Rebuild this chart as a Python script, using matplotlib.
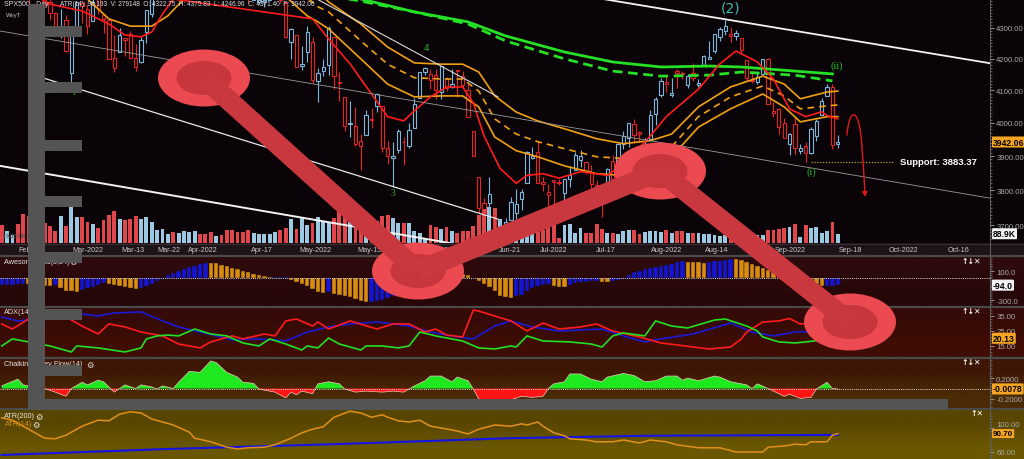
import numpy as np
import matplotlib
matplotlib.use("Agg")
import matplotlib.pyplot as plt
import matplotlib.colors as mcolors
from matplotlib.patches import Rectangle, Ellipse, FancyArrowPatch
from matplotlib.path import Path
from matplotlib.ticker import FixedLocator, NullFormatter
from matplotlib.transforms import blended_transform_factory

plt.rcParams['font.family'] = ['Liberation Sans', 'DejaVu Sans']

# ---------------------------------------------------------------------------
# daily bars 7 Feb 2022 .. 14 Sep 2022 (CFD feed: trades US holidays, not Good Friday)
opens = [4506, 4480, 4547, 4553, 4506, 4413, 4429, 4456, 4456, 4385,
         4349, 4295, 4325, 4156, 4298, 4384, 4363, 4323, 4401, 4342,
         4327, 4203, 4223, 4268, 4280, 4203, 4189, 4288, 4345, 4407,
         4455, 4469, 4493, 4470, 4523, 4541, 4603, 4624, 4599, 4550,
         4548, 4572, 4494, 4505, 4494, 4463, 4438, 4394, 4385, 4386,
         4391, 4450, 4489, 4386, 4255, 4278, 4176, 4223, 4254, 4131,
         4160, 4181, 4270, 4128, 4081, 3995, 3990, 3945, 3964, 4013,
         4052, 4052, 3925, 3895, 3919, 3943, 3930, 3985, 4077, 4158,
         4151, 4150, 4095, 4138, 4112, 4165, 4147, 4102, 3974, 3838,
         3764, 3764, 3728, 3666, 3675, 3715, 3734, 3775, 3822, 3895,
         3913, 3825, 3795, 3830, 3825, 3793, 3832, 3859, 3888, 3881,
         3852, 3815, 3800, 3818, 3884, 3861, 3935, 3955, 3998, 3972,
         3915, 3951, 4026, 4087, 4125, 4085, 4160, 4155, 4116, 4156,
         4118, 4181, 4200, 4225, 4269, 4290, 4280, 4273, 4266, 4195,
         4133, 4127, 4153, 4199, 4035, 4041, 4001, 3937, 3995, 3915,
         3931, 3909, 3960, 4023, 4084, 4110, 3936]
highs = [4522, 4531, 4590, 4589, 4526, 4426, 4473, 4490, 4456, 4395,
         4352, 4362, 4342, 4295, 4385, 4389, 4378, 4401, 4417, 4342,
         4327, 4277, 4299, 4268, 4291, 4248, 4271, 4359, 4413, 4465,
         4482, 4522, 4501, 4521, 4546, 4576, 4637, 4628, 4603, 4551,
         4584, 4593, 4504, 4521, 4520, 4464, 4471, 4454, 4453, 4410,
         4471, 4488, 4513, 4386, 4299, 4278, 4241, 4308, 4270, 4170,
         4200, 4308, 4270, 4158, 4081, 4068, 4049, 3965, 4039, 4046,
         4091, 4052, 3946, 3943, 3982, 3956, 3999, 4075, 4158, 4175,
         4168, 4167, 4178, 4143, 4169, 4165, 4160, 4119, 3974, 3838,
         3778, 3838, 3728, 3708, 3720, 3780, 3802, 3803, 3914, 3928,
         3946, 3837, 3819, 3830, 3832, 3832, 3871, 3911, 3919, 3881,
         3873, 3829, 3800, 3864, 3902, 3940, 3974, 3999, 4012, 3975,
         3953, 4040, 4079, 4140, 4145, 4140, 4168, 4161, 4152, 4187,
         4137, 4211, 4258, 4280, 4302, 4325, 4302, 4293, 4266, 4195,
         4160, 4157, 4201, 4203, 4063, 4045, 4015, 3970, 4018, 3935,
         3943, 3988, 4011, 4077, 4119, 4119, 3964]
lows = [4471, 4465, 4547, 4484, 4401, 4365, 4429, 4430, 4374, 4327,
        4290, 4267, 4222, 4115, 4287, 4315, 4280, 4323, 4346, 4285,
        4200, 4158, 4223, 4210, 4200, 4162, 4188, 4252, 4336, 4391,
        4424, 4469, 4456, 4465, 4501, 4518, 4590, 4581, 4530, 4508,
        4539, 4514, 4450, 4450, 4475, 4408, 4381, 4393, 4380, 4370,
        4391, 4449, 4384, 4268, 4201, 4175, 4163, 4189, 4124, 4063,
        4147, 4149, 4106, 4068, 3975, 3958, 3929, 3859, 3964, 3984,
        4034, 3912, 3877, 3810, 3909, 3875, 3925, 3985, 4077, 4150,
        4105, 4074, 4074, 4099, 4109, 4080, 4107, 4017, 3900, 3734,
        3722, 3722, 3640, 3637, 3665, 3715, 3718, 3744, 3822, 3890,
        3820, 3799, 3739, 3752, 3815, 3742, 3809, 3859, 3869, 3847,
        3802, 3759, 3722, 3817, 3819, 3861, 3922, 3928, 3939, 3943,
        3911, 3951, 3993, 4079, 4096, 4080, 4108, 4135, 4107, 4129,
        4112, 4177, 4199, 4220, 4257, 4278, 4253, 4262, 4219, 4130,
        4124, 4120, 4148, 4058, 4017, 3965, 3955, 3904, 3906, 3905,
        3883.37, 3906, 3945, 4023, 4084, 3922, 3925]
closes = [4484, 4522, 4587, 4504, 4419, 4402, 4471, 4475, 4380, 4349,
          4300, 4305, 4226, 4289, 4385, 4374, 4306, 4387, 4363, 4329,
          4201, 4171, 4278, 4260, 4204, 4173, 4262, 4358, 4412, 4463,
          4461, 4512, 4456, 4520, 4543, 4576, 4632, 4602, 4530, 4546,
          4583, 4525, 4481, 4500, 4488, 4413, 4397, 4447, 4393, 4392,
          4462, 4459, 4394, 4272, 4296, 4175, 4184, 4288, 4132, 4155,
          4175, 4300, 4147, 4123, 3991, 4001, 3935, 3930, 4024, 4008,
          4089, 3924, 3901, 3901, 3974, 3941, 3979, 4058, 4158, 4170,
          4132, 4101, 4177, 4109, 4121, 4161, 4116, 4018, 3901, 3750,
          3735, 3790, 3667, 3675, 3710, 3765, 3760, 3796, 3912, 3900,
          3822, 3819, 3785, 3825, 3820, 3831, 3845, 3903, 3899, 3854,
          3819, 3802, 3790, 3863, 3831, 3937, 3960, 3999, 3962, 3967,
          3921, 4024, 4072, 4130, 4119, 4091, 4155, 4152, 4145, 4140,
          4122, 4210, 4207, 4280, 4297, 4305, 4274, 4284, 4228, 4138,
          4129, 4141, 4199, 4058, 4031, 3986, 3955, 3967, 3924, 3925,
          3908, 3980, 4006, 4067, 4110, 3933, 3942.06]
volume_k = [169, 115, 74, 182, 274, 258, 210, 172, 191, 160,
            112, 255, 163, 351, 249, 249, 201, 185, 146, 217,
            265, 306, 229, 217, 232, 258, 229, 249, 198, 121,
            131, 89, 105, 98, 115, 105, 112, 83, 89, 108,
            64, 74, 121, 121, 105, 105, 121, 96, 89, 86,
            89, 105, 121, 146, 232, 137, 249, 175, 191, 249,
            204, 191, 242, 313, 265, 201, 232, 335, 121, 239,
            210, 258, 265, 239, 191, 191, 194, 115, 98, 38,
            169, 153, 137, 153, 112, 98, 112, 115, 163, 265,
            325, 344, 335, 232, 26, 96, 64, 74, 96, 105,
            121, 121, 153, 175, 51, 169, 179, 96, 143, 96,
            96, 185, 137, 96, 96, 83, 115, 121, 127, 89,
            105, 115, 112, 105, 127, 96, 115, 115, 96, 96,
            96, 89, 83, 74, 64, 74, 64, 67, 74, 76,
            89, 74, 74, 127, 127, 134, 146, 153, 179, 57,
            172, 141, 153, 98, 115, 201, 88.9]

date_tick_labels = ['Feb-13', 'Mar-2022', 'Mar-13', 'Mar-22', 'Apr-2022', 'Apr-17',
                    'May-2022', 'May-15', 'Jun-2022', 'Jun-21', 'Jul-2022', 'Jul-17',
                    'Aug-2022', 'Aug-14', 'Sep-2022', 'Sep-18', 'Oct-2022', 'Oct-16']
date_tick_pos = [5.3, 16.1, 24.5, 31.2, 37.6, 48.6, 58.6, 68.7, 81.4, 94.8,
                 103, 112.7, 124.1, 133.5, 147.1, 158.3, 168.3, 178.6]

# overlay averages (bar index, price)
red_ma_idx = [0, 5, 9, 15, 20, 23, 26, 28, 30, 32, 36, 40, 45, 50, 54, 58, 61, 65, 69, 72,
              75, 77, 80, 83, 86, 88, 90, 93, 96, 98, 101, 104, 108, 113, 114, 118, 121, 124,
              130, 134, 137, 141, 144, 147, 150, 153, 154, 156]
red_ma_val = [4480, 4420, 4379, 4356, 4313, 4277, 4271, 4287, 4346, 4396, 4460, 4500, 4480,
              4440, 4396, 4330, 4264, 4184, 4089, 4019, 4006, 4037, 4080, 4111, 4111, 4061,
              3960, 3863, 3820, 3843, 3848, 3835, 3854, 3843, 3854, 3907, 3960, 4019, 4104,
              4184, 4225, 4190, 4136, 4043, 4019, 4034, 4022, 4012]

band_idx = [0, 10, 16, 20, 24, 28, 31, 34, 40, 46, 52, 57, 59, 61, 67, 72, 77, 82, 86, 89,
            92, 96, 100, 105, 111, 116, 121, 125, 130, 136, 142, 146, 149, 154, 156]
band_upper = [4600, 4560, 4530, 4510, 4490, 4480, 4480, 4500, 4540, 4560, 4530, 4460, 4420,
              4386, 4313, 4238, 4187, 4183, 4183, 4158, 4083, 4033, 4006, 3982, 3952, 3937,
              3946, 3966, 4049, 4111, 4145, 4120, 4074, 4095, 4098]
band_mid = [4540, 4500, 4460, 4430, 4410, 4400, 4410, 4440, 4490, 4500, 4470, 4400, 4370,
            4353, 4258, 4183, 4140, 4136, 4136, 4098, 4012, 3966, 3943, 3922, 3898, 3893,
            3907, 3928, 4019, 4080, 4114, 4083, 4043, 4052, 4055]
band_lower = [4470, 4430, 4396, 4330, 4306, 4306, 4340, 4396, 4440, 4450, 4420, 4340, 4320,
              4297, 4200, 4120, 4080, 4083, 4083, 4049, 3957, 3916, 3898, 3871, 3848, 3843,
              3868, 3898, 3987, 4043, 4089, 4049, 4003, 4019, 4019]

slow_idx = [0, 30, 50, 67, 77, 87, 94, 105, 114, 123, 132, 138, 148, 155]
slow_solid = [4580, 4520, 4460, 4396, 4353, 4320, 4274, 4222, 4190, 4174, 4177, 4174, 4161, 4152]
slow_dash = [4560, 4500, 4440, 4389, 4353, 4313, 4258, 4200, 4161, 4145, 4148, 4158, 4148, 4130]

# indicators
ao_values = [-95, -90, -86, -82, -78, -82, -88, -94, -100,
             -104, -98, -135, -170, -180, -184,
             -155, -135, -115, -90, -70,
             -80, -90, -110, -125, -138, -142,
             -135, -110, -80, -40, -5, 45, 75, 100, 125, 150, 175, 200, 212,
             210, 205, 190, 165, 148, 130, 100, 83, 65, 46, 28, 18,
             20, 22, 24,
             -18, -46, -74, -110, -150, -185, -198,
             -190,
             -215, -225, -240, -262, -285, -308, -325,
             -320, -310, -295, -270, -245, -215, -180, -150, -120, -85, -50, -15, 15, 35, 55, 65,
             62, 55, 45, 10, -30, -80, -125, -170, -240, -262, -270,
             -250, -225, -180, -135, -110, -90, -80,
             -100, -115, -118,
             -90, -65, -55, -46, -37, -32,
             -55, -57,
             -40, -23, -9, 46, 83, 106, 129, 143, 152, 166, 184, 202, 221, 235,
             232, 228, 220, 211,
             221, 235, 244, 258, 267,
             265, 253, 230, 198, 166, 138, 115, 83, 55, 37, 18, 9,
             -18, -37, -60, -90, -112,
             -108, -100, -94]

adx_idx = [0, 3, 15, 18, 21, 26, 30, 33, 37, 41, 43, 47, 51, 53, 57, 61, 65, 70, 73, 76,
           80, 85, 88, 92, 95, 99, 104, 112, 116, 120, 123, 129, 136, 140, 144, 148, 150, 156]
adx_val = [34.3, 31.7, 36.3, 35, 37, 37.7, 31.7, 27.7, 24.3, 21, 19, 19.7, 19, 18.3, 24.3,
           27.7, 29.7, 31, 29.7, 28.3, 24.3, 21, 19.7, 28.3, 31.7, 27.7, 25, 26.3, 21.7,
           17.7, 19.7, 23, 30.3, 24.3, 21.7, 24.3, 24.5, 26]
di_minus_idx = [0, 2, 5, 9, 12, 15, 18, 20, 23, 26, 30, 33, 37, 39, 43, 45, 49, 51, 53, 55,
                58, 59, 61, 65, 70, 73, 76, 79, 81, 83, 86, 88, 89, 92, 95, 98, 101, 104, 108, 111,
                114, 119, 123, 126, 129, 132, 136, 138, 139, 142, 145, 147, 149, 156]
di_minus_val = [29.7, 26.3, 33, 33, 34.3, 28.3, 23, 29.7, 27.7, 24.3, 21.7, 16.3, 13.7, 17.7,
                21.7, 19.7, 23, 21.7, 31.7, 33, 28.3, 31, 26.3, 31.7, 26.3, 29.7, 29.7, 24.3,
                26.3, 22.3, 21, 39, 38.3, 35, 31.7, 25, 30.3, 26.3, 27.7, 29.7, 25, 21, 17,
                15.7, 14.3, 13, 14.3, 19.7, 24.3, 31, 31.7, 33.3, 29.7, 31]
di_plus_idx = [0, 2, 5, 9, 13, 14, 18, 23, 26, 27, 29, 31, 33, 36, 39, 42, 45, 48, 50, 53,
               56, 57, 59, 61, 63, 67, 68, 71, 74, 76, 78, 81, 86, 89, 92, 95, 96, 98, 101, 106,
               110, 112, 114, 116, 120, 122, 125, 128, 133, 135, 139, 141, 142, 145, 148, 150, 156]
di_plus_val = [15, 19.7, 17.7, 15, 11, 15, 13.7, 11, 13.7, 19.7, 21.7, 22.3, 21.7, 26.3, 23,
               21.7, 17, 15, 19.7, 16.3, 12.3, 15, 13.7, 20.3, 16.3, 12.3, 15, 15, 13.7, 15,
               24.3, 21.7, 18.3, 13.7, 13, 15, 14.3, 21.7, 18.3, 17.7, 16.3, 14.3, 21.7, 23.7,
               21.7, 31.7, 28.3, 27, 32.3, 33, 28.3, 25, 21, 17.7, 17, 17.7, 20.13]

cmf_idx = [0, 3, 4, 8, 10, 12, 13, 15, 16, 18, 19, 21, 23, 25, 26, 28, 29, 30, 32, 33,
           35, 37, 39, 40, 42, 44, 45, 47, 48, 50, 51, 53, 54, 55, 56, 58, 59, 61, 63, 64,
           66, 68, 71, 73, 75, 77, 79, 80, 82, 84, 85, 87, 88, 89, 92, 94, 97, 99, 101, 102,
           103, 105, 106, 108, 110, 112, 113, 116, 118, 120, 122, 124, 126, 127, 128, 130, 133, 134, 136, 139,
           140, 141, 143, 144, 146, 147, 149, 151, 152, 154, 155, 156]
cmf_val = [0.05, 0.18, 0.07, 0, -0.07, -0.15, 0, 0.12, 0.07, 0.16, 0.13, -0.07, 0.07, 0, 0.07,
           0.03, -0.01, 0.05, 0, 0.12, 0.33, 0.31, 0.53, 0.5, 0.31, 0.22, 0.12, 0.1, -0.01,
           -0.05, -0.07, -0.18, -0.07, -0.12, -0.05, -0.1, 0.09, 0.13, 0.09, -0.01, -0.07,
           -0.05, -0.07, -0.05, -0.07, 0.05, 0.15, 0.24, 0.24, 0.13, 0.22, 0.15, -0.01, -0.2,
           -0.28, -0.25, -0.15, -0.17, -0.15, 0, 0.09, 0.13, 0.28, 0.28, 0.18, 0.13, 0.22,
           0.29, 0.25, 0.13, 0.15, 0.24, 0.24, 0.16, 0.2, 0.15, 0.24, 0.22, 0.13, 0.07, 0,
           0.09, 0, -0.05, -0.15, -0.11, -0.19, -0.17, -0.01, 0.12, 0, -0.0078]

atr14_idx = [0, 2, 6, 8, 10, 12, 15, 18, 20, 22, 24, 26, 28, 32, 35, 36, 39, 42, 44, 46,
             49, 51, 54, 56, 58, 60, 62, 65, 67, 69, 71, 72, 74, 76, 78, 80, 82, 85, 87, 89,
             92, 95, 97, 98, 100, 101, 103, 105, 106, 109, 111, 114, 116, 119, 121, 124, 126, 130, 134, 137,
             140, 142, 143, 146, 148, 150, 151, 154, 155, 156]
atr14_val = [117, 113, 93, 83, 82, 88, 103, 113, 112, 123, 127, 125, 115, 105, 93, 83, 77, 68,
             65, 67, 68, 72, 83, 92, 98, 102, 118, 128, 125, 118, 122, 118, 112, 110, 113, 103,
             100, 95, 90, 98, 105, 103, 107, 105, 110, 103, 92, 87, 82, 80, 77, 77, 80, 75, 80,
             77, 72, 67, 67, 60, 60, 60, 68, 70, 73, 72, 77, 77, 88, 90.7]
atr200_idx = [0, 31, 62, 95, 120, 156]
atr200_val = [55, 65, 73, 83, 87, 88.5]

# chart drawings (bar index, price)
trend_lines = [((112.2, 4396), (184.4, 4186), '#f2f2f2', 1.3),
               ((-0.32, 4290), (184.4, 3777), '#9a9a9a', 0.6),
               ((5.3, 4152), (92.6, 3717), '#e8e8e8', 0.9),
               ((-0.32, 3871), (83.6, 3650), '#f2f2f2', 1.4),
               ((58.8, 4396), (92.6, 4080), '#d8d8d8', 0.8)]
support_level = 3883.37

wave_text = ['1', '3', '4', '(2)', '(i)', '(ii)']
wave_idx = [13.3, 73, 79.3, 135.9, 151, 155.8]
wave_price = [4094, 3792, 4235, 4369, 3855, 4180]

# ---------------------------------------------------------------------------
W, H = 1024, 460
fig = plt.figure(figsize=(W / 100, H / 100), dpi=100)
fig.patch.set_facecolor('#0a0408')


def px_axes(x0, y0, x1, y1, **kw):
    return fig.add_axes([x0 / W, 1 - y1 / H, (x1 - x0) / W, (y1 - y0) / H], **kw)


def ftext(x, y, s, **kw):
    kw.setdefault('va', 'center')
    return fig.text(x / W, 1 - y / H, s, **kw)


# panel backgrounds
bg = px_axes(0, 0, W, H)
bg.set_zorder(-5)
for top, bot, c1, c2 in [(0, 244, '#0a0408', '#0a0408'),
                         (244, 256, '#1d1418', '#1d1418'),
                         (256, 307, '#2d0a0c', '#260708'),
                         (307, 358, '#350a07', '#3f0d04'),
                         (358, 410, '#3e1605', '#4a2b05'),
                         (410, 460, '#584500', '#6a5700')]:
    img = np.array([[mcolors.to_rgb(c1)], [mcolors.to_rgb(c2)]])
    bg.imshow(img, extent=(0, W, bot, top), aspect='auto', interpolation='bilinear')
bg.hlines([244.5], 0, W, color='#3a2c30', lw=0.8)
bg.hlines([256.5, 307.5, 358.5, 410], 0, W, color='#4a4a4a', lw=1.6)
bg.vlines(990, 0, H, color='#5a5a5a', lw=0.8)
bg.set_xlim(0, W)
bg.set_ylim(H, 0)
bg.axis('off')

# main price panel
ax_vol = px_axes(0, 0, 990, 244)
ax_vol.set_facecolor('none')
ax = ax_vol.twinx()
bars = np.arange(len(closes))
o = np.array(opens, float)
c = np.array(closes, float)
hi = np.array(highs, float)
lo = np.array(lows, float)
up = c >= o

ax_vol.bar(bars, volume_k, width=0.72, color=np.where(up, '#9cc8e2', '#e0474c'), lw=0)
ax_vol.set_ylim(0, 2330)
ax_vol.set_xlim(-0.32, 184.4)
ax_vol.tick_params(axis='y', left=False, labelleft=False)
ax_vol.set_xticks(date_tick_pos)
ax_vol.set_xticklabels(date_tick_labels)
ax_vol.tick_params(axis='x', length=0, pad=2.2, labelsize=5.2, labelcolor='#cdc6c6')

ax.set_yscale('log')
ax.set_ylim(3650, 4396)
price_ticks = [3700, 3800, 3900, 4000, 4100, 4200, 4300]
ax.yaxis.set_major_locator(FixedLocator(price_ticks))
ax.yaxis.set_major_formatter(plt.FixedFormatter([f'{p:.2f}' for p in price_ticks]))
ax.yaxis.set_minor_locator(FixedLocator(list(range(3660, 4400, 10))))
ax.yaxis.set_minor_formatter(NullFormatter())
ax.tick_params(axis='y', which='major', length=3, color='#8a8a8a', labelsize=5.6,
               labelcolor='#a8a8a8', pad=1.5)
ax.tick_params(axis='y', which='minor', length=1.6, color='#6a6a6a')

candle_col = np.where(up, '#7db6dc', '#e42424')
body_lo = np.minimum(o, c)
body_hi = np.maximum(o, c)
ax.vlines(bars, lo, body_lo, colors=candle_col, lw=0.8, zorder=2)
ax.vlines(bars, body_hi, hi, colors=candle_col, lw=0.8, zorder=2)
ax.bar(bars, body_hi - body_lo, bottom=body_lo, width=0.62, fill=False,
       edgecolor=candle_col, lw=0.8, zorder=2)

ax.plot(band_idx, band_upper, color='#f0a012', lw=1.2, zorder=3)
ax.plot(band_idx, band_mid, color='#f0a012', lw=1.2, dashes=(4, 3), zorder=3)
ax.plot(band_idx, band_lower, color='#f0a012', lw=1.2, zorder=3)
ax.plot(slow_idx, slow_solid, color='#25e025', lw=2.0, zorder=3)
ax.plot(slow_idx, slow_dash, color='#25e025', lw=2.0, dashes=(3.5, 2), zorder=3)
ax.plot(red_ma_idx, red_ma_val, color='#ff1c1c', lw=1.2, zorder=3)

for (x0, y0), (x1, y1), col, lw in trend_lines:
    ax.plot([x0, x1], [y0, y1], color=col, lw=lw, zorder=4)

ax.hlines(support_level, 151, 166.5, color='#a8a030', lw=0.9, linestyles=(0, (1, 1.3)), zorder=4)
ax.text(167.6, support_level, f'Support: {support_level:.2f}', color='white', fontsize=6.8,
        fontweight='bold', ha='left', va='center', zorder=5)

wave_style = [dict(color='#22b022', fontsize=6.5, family='Liberation Serif'),
              dict(color='#22b022', fontsize=7, family='Liberation Serif'),
              dict(color='#22b022', fontsize=6.5, family='DejaVu Sans'),
              dict(color='#3fbdb3', fontsize=10, family='DejaVu Sans'),
              dict(color='#18c018', fontsize=7.5, family='Liberation Serif'),
              dict(color='#18c018', fontsize=7.5, family='Liberation Serif')]
for s, xi, yp, st in zip(wave_text, wave_idx, wave_price, wave_style):
    ax.text(xi, yp, s, ha='center', va='center', zorder=5, **st)

for a in (ax, ax_vol):
    for sp in a.spines.values():
        sp.set_visible(False)


def value_tag(axis, value, text, fc, size=6.2):
    tr = blended_transform_factory(axis.transAxes, axis.transData)
    axis.text(1.003, value, text, transform=tr, ha='left', va='center', fontsize=size,
              color='black', fontweight='bold', clip_on=False, zorder=6,
              bbox=dict(boxstyle='round,pad=0.12', fc=fc, ec='none'))


value_tag(ax, closes[-1], f'{closes[-1]:.2f}', '#f4a622')
value_tag(ax_vol, volume_k[-1], f'{volume_k[-1]:.1f}K', '#f2f2f2')

# lower panels
ax_ao = px_axes(0, 257, 990, 306, sharex=ax_vol)
ax_adx = px_axes(0, 308, 990, 357, sharex=ax_vol)
ax_cmf = px_axes(0, 359, 990, 409, sharex=ax_vol)
ax_atr = px_axes(0, 411, 990, 460, sharex=ax_vol)

ao = np.array(ao_values, float)
ao_rising = np.concatenate([[True], ao[1:] >= ao[:-1]])
ax_ao.bar(np.arange(len(ao)), ao, width=0.82, color=np.where(ao_rising, '#1414d2', '#d88c12'),
          edgecolor='#20100a', lw=0.3)
ax_ao.axhline(0, color='#dcdcdc', lw=0.7, ls=(0, (1, 1.2)))
ax_ao.set_ylim(-368, 308)
ax_ao.set_yticks([100, -300])
ax_ao.set_yticklabels(['100.0', '-300.0'])
ax_ao.yaxis.set_minor_locator(FixedLocator(list(range(-350, 300, 25))))
value_tag(ax_ao, ao_values[-1], f'{ao_values[-1]:.1f}', '#f2f2f2')

ax_adx.plot(adx_idx, adx_val, color='#1a1ad8', lw=1.2)
ax_adx.plot(di_minus_idx, di_minus_val, color='#ff1c1c', lw=1.2)
ax_adx.plot(di_plus_idx, di_plus_val, color='#22e022', lw=1.2)
ax_adx.set_ylim(8.3, 41)
ax_adx.set_yticks([35, 25, 15])
ax_adx.set_yticklabels(['35.00', '25.00', '15.00'])
ax_adx.yaxis.set_minor_locator(FixedLocator(list(range(9, 41, 2))))
value_tag(ax_adx, di_plus_val[-1], f'{di_plus_val[-1]:.2f}', '#f4a622')

cx = np.array(cmf_idx, float)
cv = np.array(cmf_val, float)
ax_cmf.fill_between(cx, cv, 0, where=cv >= 0, interpolate=True, color='#1ee81e', lw=0)
ax_cmf.fill_between(cx, cv, 0, where=cv <= 0, interpolate=True, color='#ff1414', lw=0)
ax_cmf.plot(cx, cv, color='#f0c8c0', lw=0.5)
ax_cmf.axhline(0, color='#dcdcdc', lw=0.7, ls=(0, (1, 1.2)))
ax_cmf.set_ylim(-0.375, 0.587)
ax_cmf.set_yticks([0.2, -0.2])
ax_cmf.set_yticklabels(['0.2000', '-0.2000'])
ax_cmf.yaxis.set_minor_locator(FixedLocator(list(np.arange(-0.35, 0.59, 0.05))))
value_tag(ax_cmf, cmf_val[-1], f'{cmf_val[-1]:.4f}', '#f4a622')

ax_atr.plot(atr200_idx, atr200_val, color='#1414e6', lw=1.5)
ax_atr.plot(atr14_idx, atr14_val, color='#e0901c', lw=1.1)
ax_atr.set_ylim(48.3, 130)
ax_atr.set_yticks([100, 60])
ax_atr.set_yticklabels(['100.00', '60.00'])
ax_atr.yaxis.set_minor_locator(FixedLocator(list(range(50, 130, 5))))
value_tag(ax_atr, atr14_val[-1], f'{atr14_val[-1]:.2f}', '#f4a622', size=5.8)

for a in (ax_ao, ax_adx, ax_cmf, ax_atr):
    a.set_facecolor('none')
    for sp in a.spines.values():
        sp.set_visible(False)
    a.yaxis.tick_right()
    a.tick_params(axis='x', bottom=False, labelbottom=False)
    a.tick_params(axis='y', which='major', length=3, color='#8a8a8a', labelsize=5.6,
                  labelcolor='#a8a8a8', pad=1.5)
    a.tick_params(axis='y', which='minor', length=1.6, color='#6a6a6a')
    a.yaxis.set_minor_formatter(NullFormatter())
# the ATR 100.00 label sits just above the value tag, as in the reference
ax_atr.get_yticklabels()[0].set_va('bottom')

# header and panel titles
ftext(4, 5, 'SPX500 - Day', fontsize=5, color='#dcdcdc')
ftext(60, 5, 'ATR(14): 96.193  V: 279148  O: 4322.75  H: 4375.83  L: 4246.96  C: 4371.40  P: 3942.06',
      fontsize=4.7, color='#dcdcdc')
ftext(6, 15, 'WvyT', fontsize=4.3, color='#c8c8c8')
ftext(3, 237, 'tradeview.com', fontsize=4.8, color='#4a4a4a')
ftext(4, 262, 'Awesome Osc(5,34)', fontsize=5.2, color='#e4e4e4')
ftext(69, 262, '\u2699', fontsize=6, color='#e4e4e4', family='DejaVu Sans')
ftext(4, 313, 'ADX(14)', fontsize=5.2, color='#e4e4e4')
ftext(4, 365, 'Chaikin Money Flow(14)', fontsize=5.2, color='#e4e4e4')
ftext(86, 365, '\u2699', fontsize=6, color='#e4e4e4', family='DejaVu Sans')
ftext(4, 417, 'ATR(200)', fontsize=5.2, color='#e8e8e8')
ftext(35, 417, '\u2699', fontsize=6, color='#e8e8e8', family='DejaVu Sans')
ftext(5, 425, 'ATR(14)', fontsize=5.2, color='#d8921e')
ftext(32, 425, '\u2699', fontsize=6, color='#e8e8e8', family='DejaVu Sans')
for yy in (262, 312, 363):
    ftext(961, yy, '\u2191\u2193\u2715', fontsize=5.6, color='white', fontweight='bold',
          family='DejaVu Sans')
ftext(970, 414, '\u2191\u2715', fontsize=5.6, color='white', fontweight='bold', family='DejaVu Sans')

# overlay drawing: ladder, circles and connectors
ov = px_axes(0, 0, W, H)
ov.set_zorder(20)
ov.patch.set_visible(False)
ov.set_xlim(0, W)
ov.set_ylim(H, 0)
ov.axis('off')
gray = '#545454'
ov.add_patch(Rectangle((28, 5), 17, 406, fc=gray, ec='none'))
ov.add_patch(Rectangle((28, 400), 920, 11, fc=gray, ec='none'))
for ry in (27, 83, 141, 197, 253, 310, 366):
    ov.add_patch(Rectangle((45, ry), 37, 11, fc=gray, ec='none'))

centers = [(204, 79), (418, 272), (660, 172), (850, 323)]
for (x0, y0), (x1, y1) in zip(centers[:-1], centers[1:]):
    ov.plot([x0, x1], [y0, y1], color='#c9383e', lw=14.5, solid_capstyle='butt')
for cx0, cy0 in centers:
    ov.add_patch(Ellipse((cx0, cy0), 92, 57, fc='#ea4a50', ec='none'))
    ov.add_patch(Ellipse((cx0, cy0), 55, 34, fc='#c7363c', ec='none'))

fc_path = Path([(847, 136), (849, 108), (860, 106), (862, 150), (864, 172), (865, 198)],
               [Path.MOVETO, Path.CURVE4, Path.CURVE4, Path.CURVE4, Path.CURVE3, Path.CURVE3])
ov.add_patch(FancyArrowPatch(path=fc_path, arrowstyle='-|>', mutation_scale=7,
                             color='#e01818', lw=1.0))

fig.savefig('out.png', dpi=100, facecolor=fig.get_facecolor())
